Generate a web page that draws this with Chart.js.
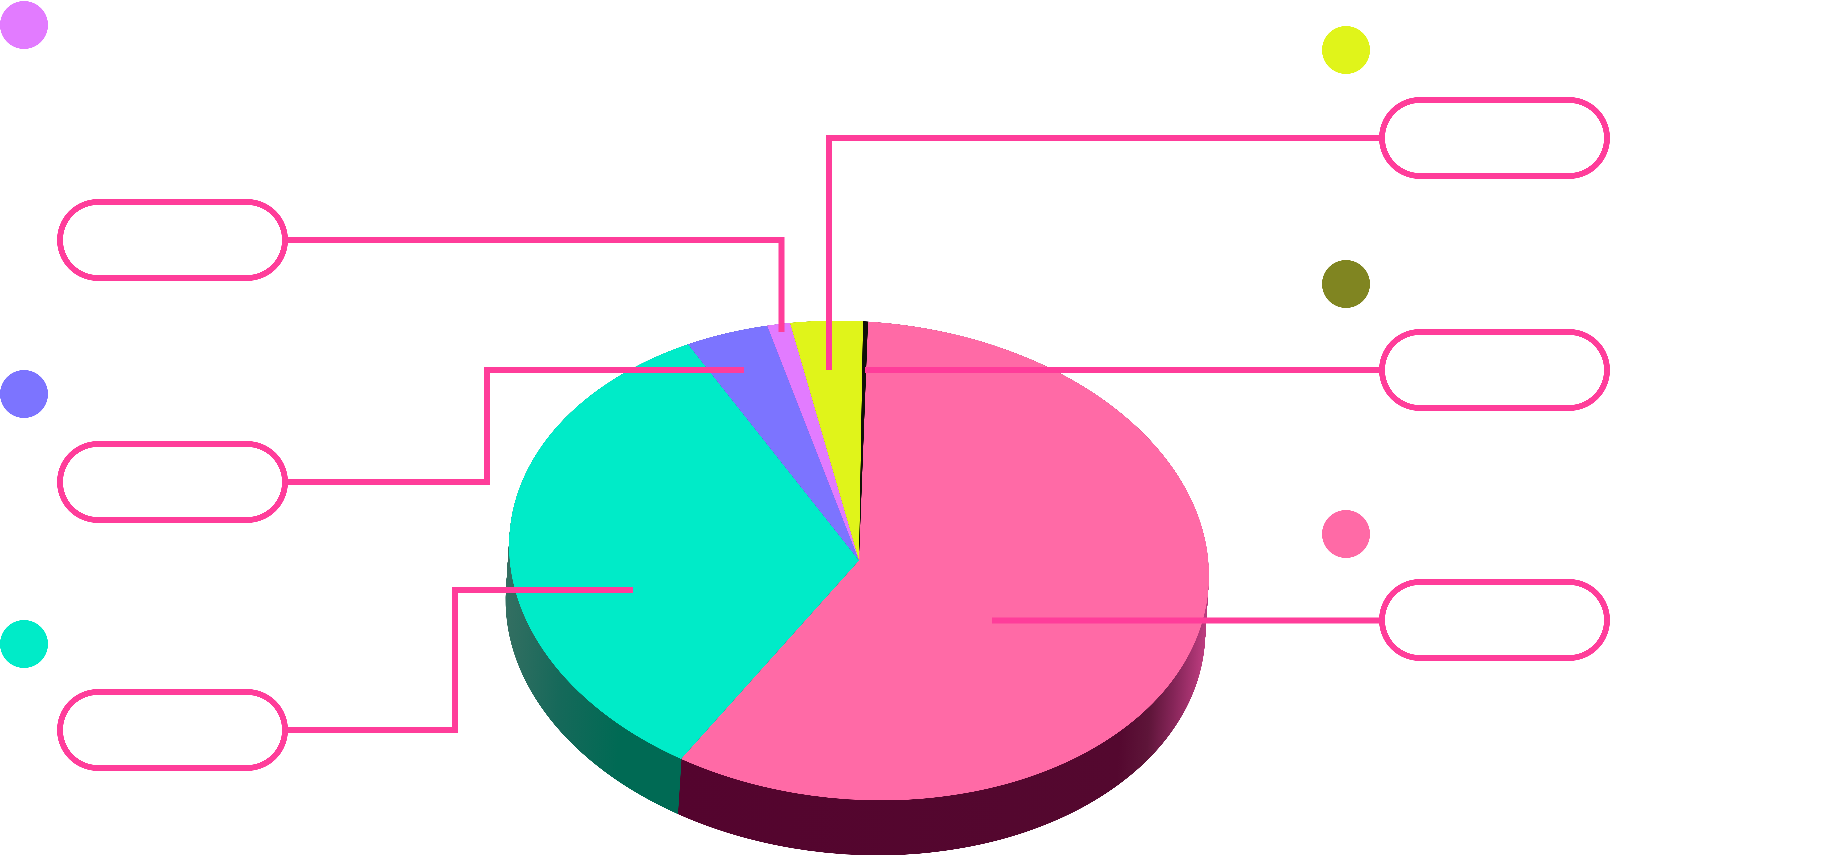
<!DOCTYPE html>
<html>
<head>
<meta charset="utf-8">
<title>Pie</title>
<script src="https://cdn.jsdelivr.net/npm/chart.js"></script>
<style>
  html, body { margin: 0; padding: 0; background: #fff; overflow: hidden; }
  canvas { position: absolute; left: 0; top: 0; }
</style>
</head>
<body>
<canvas id="wall" width="1843" height="857"></canvas>
<canvas id="face" width="1843" height="857"></canvas>
<script>
// the reference has no visible text, these only name the slices
const categories = ['rosa', 'tuerkis', 'violett', 'magenta', 'gelb', 'oliv'];
const shares = [58.1, 33.4, 3.9, 1.07, 3.34, 0.23];
const faceColors = ['#FF6AA6', '#00EBC8', '#7C74FF', '#E27BFF', '#E0F41A', '#111108'];
const dotColors = ['#FF6AA6', '#00EBC8', '#7C74FF', '#E27BFF', '#E0F41A', '#808521'];

// where the flattened pie sits on the page
const pieX = 859, pieY = 560.5;
const pieRadius = 350;
const flatten = 0.684, tilt = 0.043;
const wallDepth = 55, wallDrift = 3.5;
const startAngle = 1.48;

const lineColor = '#FF3D9A';
const lineWidth = 6;

function moveToPie(ctx, arc, dx, dy) {
  ctx.translate(pieX + dx, pieY + dy);
  ctx.transform(1, tilt, 0, flatten, 0, 0);
  ctx.translate(-arc.x, -arc.y);
}

const wallPlugin = {
  id: 'wallPlugin',
  beforeDatasetDraw(chart, args) {
    const ctx = chart.ctx;
    for (let d = wallDepth; d >= 0; d--) {
      ctx.save();
      moveToPie(ctx, args.meta.data[0], -wallDrift * d / wallDepth, d);
      args.meta.controller.draw();
      ctx.restore();
    }
    return false;
  }
};

const facePlugin = {
  id: 'facePlugin',
  beforeDatasetDraw(chart, args) {
    chart.ctx.save();
    moveToPie(chart.ctx, args.meta.data[0], 0, 0);
  },
  afterDatasetDraw(chart) {
    chart.ctx.restore();
  },
  afterDraw(chart) {
    drawCallouts(chart.ctx);
  }
};

function drawCallouts(ctx) {
  const leaders = [
    [[288, 240], [781.5, 240], [781.5, 332]],
    [[288, 482], [487, 482], [487, 370], [744, 370]],
    [[288, 730], [455, 730], [455, 590], [633, 590]],
    [[1380, 138], [829, 138], [829, 370]],
    [[1380, 370], [865, 370]],
    [[1380, 620.5], [992, 620.5]]
  ];
  const pills = [
    [60, 240], [60, 482], [60, 730],
    [1382, 138], [1382, 370], [1382, 620]
  ];
  const dots = [
    [1346, 534, 0], [24, 644, 1], [24, 394, 2],
    [24, 25, 3], [1346, 50, 4], [1346, 284, 5]
  ];

  ctx.save();
  ctx.strokeStyle = lineColor;
  ctx.lineWidth = lineWidth;
  ctx.lineJoin = 'miter';

  leaders.forEach(points => {
    ctx.beginPath();
    points.forEach((p, i) => i ? ctx.lineTo(p[0], p[1]) : ctx.moveTo(p[0], p[1]));
    ctx.stroke();
  });

  pills.forEach(p => {
    ctx.beginPath();
    ctx.roundRect(p[0], p[1] - 38, 225, 76, 38);
    ctx.fillStyle = '#fff';
    ctx.fill();
    ctx.stroke();
  });

  dots.forEach(d => {
    ctx.beginPath();
    ctx.arc(d[0], d[1], 24, 0, Math.PI * 2);
    ctx.fillStyle = dotColors[d[2]];
    ctx.fill();
  });
  ctx.restore();
}

// page x to the x the pie chart draws at before it gets moved
function wallGradient(ctx, stops) {
  const shift = 1843 / 2 - pieX;
  const g = ctx.createLinearGradient(stops[0][0] + shift, 0, stops[stops.length - 1][0] + shift, 0);
  const span = stops[stops.length - 1][0] - stops[0][0];
  stops.forEach(s => g.addColorStop((s[0] - stops[0][0]) / span, s[1]));
  return g;
}

function pieConfig(colors, plugin) {
  return {
    type: 'pie',
    data: {
      labels: categories,
      datasets: [{ data: shares, backgroundColor: colors, borderWidth: 0 }]
    },
    options: {
      responsive: false,
      animation: false,
      devicePixelRatio: 3, // arcs come out angular at 1
      events: [],
      radius: pieRadius,
      rotation: startAngle,
      plugins: { legend: { display: false }, tooltip: { enabled: false } }
    },
    plugins: [plugin]
  };
}

const wallCtx = document.getElementById('wall').getContext('2d');
const pinkWall = wallGradient(wallCtx, [[680, '#54042E'], [1120, '#54082F'], [1150, '#5E1539'], [1175, '#852558'], [1205, '#B93B7D']]);
const tealWall = wallGradient(wallCtx, [[506, '#356F62'], [560, '#16695A'], [620, '#006A54'], [680, '#006A54']]);
const wallColors = [pinkWall, tealWall, '#3A3680', '#713D80', '#70790D', '#080804'];

new Chart(wallCtx, pieConfig(wallColors, wallPlugin));
new Chart(document.getElementById('face'), pieConfig(faceColors, facePlugin));
</script>
</body>
</html>
